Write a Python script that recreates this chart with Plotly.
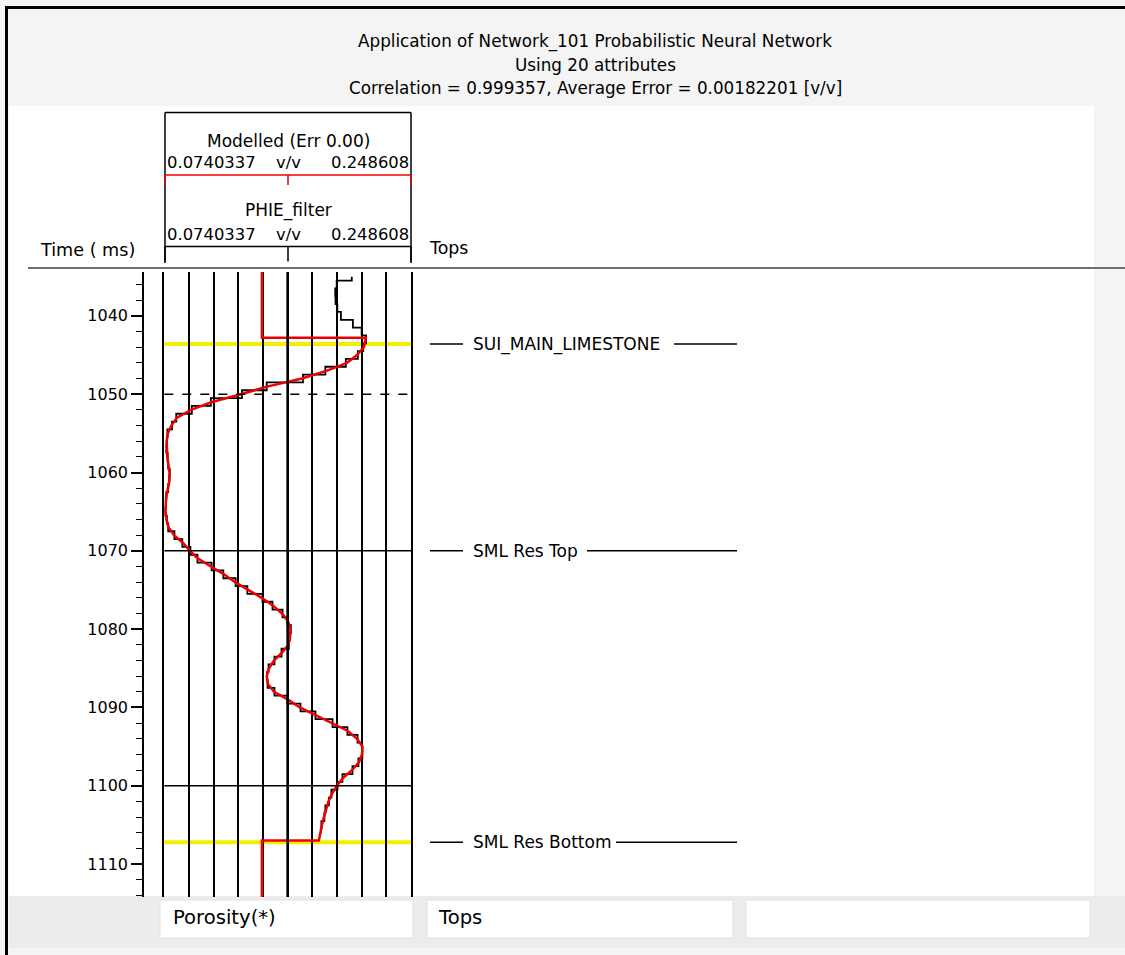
import plotly.graph_objects as go

# ---- porosity track scale (v/v) ----
scale_min = 0.0740337
scale_max = 0.248608
n_div = 10

time_top = 1034.4
time_bottom = 1114.2

# PHIE_filter log, one sample per ms
phie_time = list(range(1035, 1107))
phie_value = [
    0.2067, 0.1960, 0.1950, 0.1952, 0.1965, 0.1990, 0.2075, 0.2137, 0.2168, 0.2148,
    0.2110, 0.2025, 0.1880, 0.1722, 0.1465, 0.1290, 0.1070, 0.0935, 0.0825, 0.0795,
    0.0762, 0.0758, 0.0755, 0.0764, 0.0768, 0.0779, 0.0775, 0.0768, 0.0754, 0.0751,
    0.0747, 0.0758, 0.0768, 0.0812, 0.0868, 0.0925, 0.0975, 0.1075, 0.1158, 0.1245,
    0.1328, 0.1435, 0.1506, 0.1577, 0.1612, 0.1636, 0.1627, 0.1622, 0.1570, 0.1520,
    0.1478, 0.1468, 0.1471, 0.1520, 0.1612, 0.1704, 0.1810, 0.1931, 0.2036, 0.2108,
    0.2140, 0.2142, 0.2114, 0.2072, 0.2001, 0.1966, 0.1923, 0.1905, 0.1880, 0.1873,
    0.1852, 0.1848,
]

# Modelled porosity inside the analysis window
model_time = list(range(1043, 1108))
model_value = [
    0.2165, 0.2153, 0.2104, 0.2033, 0.1892, 0.1715, 0.1474, 0.1283, 0.1078, 0.0929,
    0.0830, 0.0790, 0.0766, 0.0757, 0.0757, 0.0762, 0.0769, 0.0777, 0.0777, 0.0766,
    0.0756, 0.0750, 0.0749, 0.0756, 0.0770, 0.0809, 0.0873, 0.0922, 0.0979, 0.1071,
    0.1163, 0.1241, 0.1333, 0.1430, 0.1510, 0.1573, 0.1616, 0.1633, 0.1630, 0.1619,
    0.1573, 0.1517, 0.1481, 0.1465, 0.1474, 0.1517, 0.1616, 0.1700, 0.1814, 0.1927,
    0.2040, 0.2104, 0.2143, 0.2139, 0.2118, 0.2068, 0.2005, 0.1962, 0.1927, 0.1902,
    0.1884, 0.1870, 0.1856, 0.1845, 0.1834,
]
# value displayed outside the window
model_outside = 0.1431
window_top = 1042.8
window_bottom = 1107.0

# Tops
tops_name = ["SUI_MAIN_LIMESTONE", "SML Res Top", "SML Res Bottom"]
tops_time = [1043.6, 1070.0, 1107.2]
tops_track_color = ["#f2ef00", "black", "#f2ef00"]
tops_label_end = [665, 578, 607]  # right edge of each label, px

# Additional time markers in the porosity track
marker_time = [1050.0, 1100.0]
marker_dash = ["dash", "solid"]

W, H = 1125, 955
FONT = "DejaVu Sans"


def px(x):
    return x / W


def py(y):
    return 1 - y / H


def label(text, x, y, size, anchor="center", yref="paper"):
    return dict(text=text, xref="paper", yref=yref, x=x, y=y,
                xanchor=anchor, yanchor="middle", showarrow=False,
                font=dict(family=FONT, size=size, color="black"))


fig = go.Figure()

# PHIE_filter (black, blocky)
fig.add_trace(go.Scatter(
    x=phie_value, y=phie_time, mode="lines", line_shape="vhv",
    line=dict(color="black", width=1.8), hoverinfo="skip", showlegend=False,
))

# Modelled curve (red) with constant value outside the window
mx = [model_outside, model_outside, model_value[0]] + model_value + [model_outside, model_outside]
my = [time_top, window_top, window_top] + model_time + [window_bottom, time_bottom]
fig.add_trace(go.Scatter(
    x=mx, y=my, mode="lines", line=dict(color="#ee0000", width=2.5),
    hoverinfo="skip", showlegend=False,
))

# invisible trace carrying the time scale axis
fig.add_trace(go.Scatter(
    x=[scale_min], y=[time_top], yaxis="y2", mode="markers",
    marker=dict(opacity=0), hoverinfo="skip", showlegend=False,
))

shapes = []
annotations = []

# page background blocks
shapes.append(dict(type="rect", xref="paper", yref="paper", x0=px(9), x1=px(1094),
                   y0=py(896), y1=py(106), fillcolor="white", line=dict(width=0), layer="below"))
shapes.append(dict(type="rect", xref="paper", yref="paper", x0=px(9), x1=px(1125),
                   y0=py(948), y1=py(896), fillcolor="#ececec", line=dict(width=0), layer="below"))
for x0, x1 in [(160, 413), (427, 733), (746, 1090)]:
    shapes.append(dict(type="rect", xref="paper", yref="paper", x0=px(x0), x1=px(x1),
                       y0=py(938), y1=py(900), fillcolor="white",
                       line=dict(color="#e2e2e2", width=1), layer="below"))
# window frame
shapes.append(dict(type="line", xref="paper", yref="paper", x0=px(6.5), x1=px(6.5),
                   y0=py(6), y1=0, line=dict(color="black", width=3)))
shapes.append(dict(type="line", xref="paper", yref="paper", x0=px(5), x1=1,
                   y0=py(7.5), y1=py(7.5), line=dict(color="black", width=3)))
# header separator
shapes.append(dict(type="line", xref="paper", yref="paper", x0=px(28), x1=1,
                   y0=py(268), y1=py(268), line=dict(color="#6e6e6e", width=2)))

# header box of the porosity track
hx0, hx1, hmid = px(165), px(411), px(288)
shapes.append(dict(type="line", xref="paper", yref="paper", x0=hx0, x1=hx1,
                   y0=py(112.5), y1=py(112.5), line=dict(color="black", width=1.5)))
for hx in (hx0, hx1):
    shapes.append(dict(type="line", xref="paper", yref="paper", x0=hx, x1=hx,
                       y0=py(112.5), y1=py(263), line=dict(color="black", width=1.5)))
# scale bars
for yb, col in [(175, "#ee0000"), (246.5, "black")]:
    shapes.append(dict(type="line", xref="paper", yref="paper", x0=hx0, x1=hx1,
                       y0=py(yb), y1=py(yb), line=dict(color=col, width=1.5)))
    for hx in (hx0, hmid, hx1):
        shapes.append(dict(type="line", xref="paper", yref="paper", x0=hx, x1=hx,
                           y0=py(yb), y1=py(yb + (10 if col != "black" else 15)),
                           line=dict(color=col, width=1.5)))

# yellow / marker lines in the track
for t, c in zip(tops_time, tops_track_color):
    shapes.append(dict(type="line", xref="x domain", yref="y", x0=0, x1=1, y0=t, y1=t,
                       line=dict(color=c, width=4 if c != "black" else 1.5),
                       layer="below" if c != "black" else "above"))
for t, d in zip(marker_time, marker_dash):
    shapes.append(dict(type="line", xref="x domain", yref="y", x0=0, x1=1, y0=t, y1=t,
                       line=dict(color="black", width=1.5, dash=d)))
# thicker centre line of the track
shapes.append(dict(type="line", xref="x", yref="y domain", x0=(scale_min + scale_max) / 2,
                   x1=(scale_min + scale_max) / 2, y0=0, y1=1,
                   line=dict(color="black", width=2.6)))

# tops labels in the Tops track
for name, t, xe in zip(tops_name, tops_time, tops_label_end):
    shapes.append(dict(type="line", xref="paper", yref="y", x0=px(430), x1=px(463),
                       y0=t, y1=t, line=dict(color="black", width=1.5)))
    shapes.append(dict(type="line", xref="paper", yref="y", x0=px(xe + 9), x1=px(737),
                       y0=t, y1=t, line=dict(color="black", width=1.5)))
    annotations.append(label(name, px(471), t, 17, "left", yref="y"))

# title
for txt, yy in [("Application of Network_101 Probabilistic Neural Network", 42),
                ("Using 20 attributes", 65),
                ("Correlation = 0.999357, Average Error = 0.00182201 [v/v]", 88)]:
    annotations.append(label(txt, px(595), py(yy), 16.8))

# track header text
annotations.append(label("Modelled (Err 0.00)", hmid, py(141), 17))
annotations.append(label("PHIE_filter", hmid, py(211), 17))
for yy in (162, 234):
    annotations.append(label(f"{scale_min:g}", px(165), py(yy), 16.4, "left"))
    annotations.append(label("v/v", hmid, py(yy), 16.4))
    annotations.append(label(f"{scale_max:g}", px(411), py(yy), 16.4, "right"))

annotations.append(label("Time ( ms)", px(137), py(250), 17.6, "right"))
annotations.append(label("Tops", px(427), py(248), 17.4, "left"))
# footer
annotations.append(label("Porosity(*)", px(171), py(917), 19.6, "left"))
annotations.append(label("Tops", px(436), py(917), 19.6, "left"))

ydom = [py(897), py(272)]
fig.update_layout(
    width=W, height=H, autosize=False,
    margin=dict(l=0, r=0, t=0, b=0),
    paper_bgcolor="#f4f4f4", plot_bgcolor="white",
    xaxis=dict(
        domain=[px(164.3), px(411)], range=[scale_min, scale_max],
        tick0=scale_min, dtick=(scale_max - scale_min) / n_div,
        showgrid=True, gridcolor="black", gridwidth=1.7,
        showticklabels=False, ticks="", zeroline=False, showline=False, fixedrange=True,
    ),
    yaxis=dict(
        domain=ydom, range=[time_bottom, time_top],
        showgrid=False, showticklabels=False, ticks="", zeroline=False,
        showline=True, mirror=True, linecolor="black", linewidth=1.8,
    ),
    yaxis2=dict(
        overlaying="y", anchor="free", position=px(143), side="left",
        range=[time_bottom, time_top], showgrid=False, zeroline=False,
        showline=True, linecolor="black", linewidth=1.6,
        tickmode="linear", tick0=1040, dtick=10, ticks="outside", ticklen=11,
        tickwidth=1.6, tickcolor="black",
        minor=dict(ticks="outside", ticklen=6, tickwidth=1.3, tickcolor="black",
                   tickmode="linear", tick0=1040, dtick=2),
        tickfont=dict(family=FONT, size=16, color="black"),
    ),
    shapes=shapes,
    annotations=annotations,
)

fig.write_html("out.html")
